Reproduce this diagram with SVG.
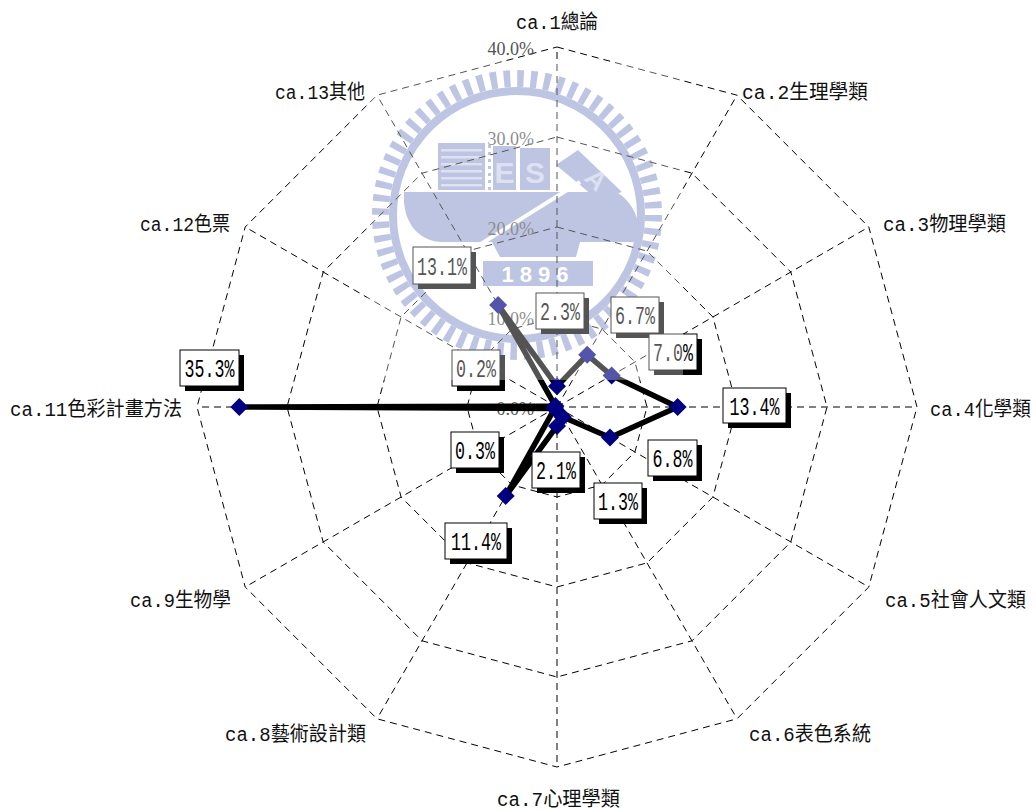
<svg xmlns="http://www.w3.org/2000/svg" width="1036" height="810" viewBox="0 0 1036 810">
<defs>
<style>
.grid{fill:none;stroke:#000;stroke-width:1;stroke-dasharray:7 5}
.tick{font-family:'Liberation Serif',serif;font-size:18px;fill:#555;text-anchor:end}
.cat{font-family:'Liberation Mono','Noto Sans CJK TC',monospace;font-size:20px;fill:#111}
.series{fill:none;stroke:#000;stroke-width:5.5;stroke-linejoin:round}
.mk{fill:#000080}
.sh{fill:#000}
.bx{fill:#fff;stroke:#000;stroke-width:1}
.lt{font-family:'Liberation Mono',monospace;font-size:26px;fill:#000}
.logo{fill:#9EA9D6}
.logoL{fill:#CCD2EC;font-family:'Liberation Sans',sans-serif;font-weight:bold}
</style>
<path id="dm" d="M0,-9 L9,0 L0,9 L-9,0 Z"/>
</defs>
<rect x="0" y="0" width="1036" height="810" fill="#fff"/>

<g id="watermark-logo">
<circle cx="517" cy="215" r="136.5" fill="none" stroke="#9EA9D6" stroke-width="17" stroke-dasharray="6.5 6.9"/>
<circle cx="517" cy="215" r="124" fill="none" stroke="#9EA9D6" stroke-width="8"/>
<path class="logo" d="M404,192 L616,192 C632,200 642,222 640,242 L580,242 L576,257 L500,257 L492,242 L440,242 C418,240 402,222 404,192 Z"/>
<rect class="logo" x="438" y="143" width="47" height="47"/>
<g fill="#CCD2EC">
<rect x="441" y="149" width="41" height="2.5"/>
<rect x="441" y="156" width="41" height="2.5"/>
<rect x="441" y="163" width="41" height="2.5"/>
<rect x="441" y="170" width="41" height="2.5"/>
<rect x="441" y="177" width="41" height="2.5"/>
<rect x="441" y="184" width="41" height="2.5"/>
</g>
<g class="logo">
<rect x="488" y="145" width="3" height="3"/><rect x="488" y="152" width="3" height="3"/><rect x="488" y="159" width="3" height="3"/><rect x="488" y="166" width="3" height="3"/><rect x="488" y="173" width="3" height="3"/><rect x="488" y="180" width="3" height="3"/><rect x="488" y="187" width="3" height="3"/>
</g>
<rect class="logo" x="493" y="146" width="23" height="44"/>
<rect class="logo" x="520" y="148" width="30" height="42"/>
<polygon class="logo" points="556,165 578,150 622,192 598,200"/>
<line x1="468" y1="252" x2="580" y2="182" stroke="#fff" stroke-width="4"/>
<rect class="logo" x="483" y="261" width="110" height="25"/>
<text class="logoL" x="504.5" y="183" font-size="30" text-anchor="middle">E</text>
<text class="logoL" x="535" y="183" font-size="30" text-anchor="middle">S</text>
<text class="logoL" x="0" y="0" font-size="26" text-anchor="middle" transform="translate(590,186) rotate(45)">A</text>
<text class="logoL" x="538" y="282" font-size="22" text-anchor="middle" letter-spacing="6" style="fill:#fff">1896</text>
</g>

<g id="grid">
<polygon class="grid" points="557,47 737,95.2 868.8,227 917,407 868.8,587 737,718.8 557,767 377,718.8 245.2,587 197,407 245.2,227 377,95.2"/>
<polygon class="grid" points="557,137 692,173.2 790.8,272 827,407 790.8,542 692,640.8 557,677 422,640.8 323.2,542 287,407 323.2,272 422,173.2"/>
<polygon class="grid" points="557,227 647,251.1 712.9,317 737,407 712.9,497 647,562.9 557,587 467,562.9 401.1,497 377,407 401.1,317 467,251.1"/>
<polygon class="grid" points="557,317 602,329.1 634.9,362 647,407 634.9,452 602,484.9 557,497 512,484.9 479.1,452 467,407 479.1,362 512,329.1"/>
<path class="grid" d="M557,407 L557,47 M557,407 L737,95.2 M557,407 L868.8,227 M557,407 L917,407 M557,407 L868.8,587 M557,407 L737,718.8 M557,407 L557,767 M557,407 L377,718.8 M557,407 L245.2,587 M557,407 L197,407 M557,407 L245.2,227 M557,407 L377,95.2"/>
</g>

<g id="axis-ticks">
<text class="tick" x="534" y="55">40.0%</text>
<text class="tick" x="534" y="145">30.0%</text>
<text class="tick" x="534" y="235">20.0%</text>
<text class="tick" x="534" y="325">10.0%</text>
<text class="tick" x="534" y="415">0.0%</text>
</g>

<g id="axis-labels">
<text id="cat1" class="cat" x="516" y="29" textLength="82" lengthAdjust="spacingAndGlyphs">ca.1總論</text>
<text id="cat2" class="cat" x="742" y="99" textLength="126" lengthAdjust="spacingAndGlyphs">ca.2生理學類</text>
<text id="cat3" class="cat" x="883" y="231" textLength="123" lengthAdjust="spacingAndGlyphs">ca.3物理學類</text>
<text id="cat4" class="cat" x="930" y="416" textLength="101" lengthAdjust="spacingAndGlyphs">ca.4化學類</text>
<text id="cat5" class="cat" x="885" y="607" textLength="141" lengthAdjust="spacingAndGlyphs">ca.5社會人文類</text>
<text id="cat6" class="cat" x="749" y="741" textLength="122" lengthAdjust="spacingAndGlyphs">ca.6表色系統</text>
<text id="cat7" class="cat" x="497" y="806" textLength="123" lengthAdjust="spacingAndGlyphs">ca.7心理學類</text>
<text id="cat8" class="cat" x="225" y="741" textLength="141" lengthAdjust="spacingAndGlyphs">ca.8藝術設計類</text>
<text id="cat9" class="cat" x="130" y="607" textLength="101" lengthAdjust="spacingAndGlyphs">ca.9生物學</text>
<text id="cat11" class="cat" x="10" y="416" textLength="172" lengthAdjust="spacingAndGlyphs">ca.11色彩計畫方法</text>
<text id="cat12" class="cat" x="140" y="231" textLength="90" lengthAdjust="spacingAndGlyphs">ca.12色票</text>
<text id="cat13" class="cat" x="275" y="99" textLength="90" lengthAdjust="spacingAndGlyphs">ca.13其他</text>
</g>

<g id="connectors">
<polygon class="series" points="557,386.3 587.2,354.8 611.6,375.5 677.6,407 610,437.6 562.9,417.1 557,425.9 505.7,495.9 554.7,408.4 239.3,407 555.4,406.1 498.1,304.9"/>
</g>

<g id="markers">
<use href="#dm" class="mk" x="557" y="386.3"/>
<use href="#dm" class="mk" x="587.2" y="354.8"/>
<use href="#dm" class="mk" x="611.6" y="375.5"/>
<use href="#dm" class="mk" x="677.6" y="407"/>
<use href="#dm" class="mk" x="610" y="437.6"/>
<use href="#dm" class="mk" x="562.9" y="417.1"/>
<use href="#dm" class="mk" x="557" y="425.9"/>
<use href="#dm" class="mk" x="505.7" y="495.9"/>
<use href="#dm" class="mk" x="554.7" y="408.4"/>
<use href="#dm" class="mk" x="239.3" y="407"/>
<use href="#dm" class="mk" x="555.4" y="406.1"/>
<use href="#dm" class="mk" x="498.1" y="304.9"/>
</g>

<g id="label-ca1"><rect class="sh" x="541" y="298" width="48" height="36"/><rect class="bx" x="536" y="293" width="48" height="36"/><text class="lt" x="540" y="320" textLength="40" lengthAdjust="spacingAndGlyphs">2.3%</text></g>
<g id="label-ca2"><rect class="sh" x="616" y="302" width="48" height="36"/><rect class="bx" x="611" y="297" width="48" height="36"/><text class="lt" x="615" y="324" textLength="40" lengthAdjust="spacingAndGlyphs">6.7%</text></g>
<g id="label-ca3"><rect class="sh" x="654" y="339" width="48" height="36"/><rect class="bx" x="649" y="334" width="48" height="36"/><text class="lt" x="653" y="361" textLength="40" lengthAdjust="spacingAndGlyphs">7.0%</text></g>
<g id="label-ca4"><rect class="sh" x="728" y="393" width="63" height="35"/><rect class="bx" x="723" y="388" width="63" height="35"/><text class="lt" x="729.5" y="415" textLength="50" lengthAdjust="spacingAndGlyphs">13.4%</text></g>
<g id="label-ca5"><rect class="sh" x="653" y="445" width="49" height="36"/><rect class="bx" x="648" y="440" width="49" height="36"/><text class="lt" x="652.5" y="467" textLength="40" lengthAdjust="spacingAndGlyphs">6.8%</text></g>
<g id="label-ca6"><rect class="sh" x="599" y="488" width="48" height="36"/><rect class="bx" x="594" y="483" width="48" height="36"/><text class="lt" x="598" y="510" textLength="40" lengthAdjust="spacingAndGlyphs">1.3%</text></g>
<g id="label-ca7"><rect class="sh" x="537" y="457" width="48" height="36"/><rect class="bx" x="532" y="452" width="48" height="36"/><text class="lt" x="536" y="479" textLength="40" lengthAdjust="spacingAndGlyphs">2.1%</text></g>
<g id="label-ca8"><rect class="sh" x="450" y="528" width="62" height="36"/><rect class="bx" x="445" y="523" width="62" height="36"/><text class="lt" x="451" y="550" textLength="50" lengthAdjust="spacingAndGlyphs">11.4%</text></g>
<g id="label-ca9"><rect class="sh" x="456" y="437" width="48" height="36"/><rect class="bx" x="451" y="432" width="48" height="36"/><text class="lt" x="455" y="459" textLength="40" lengthAdjust="spacingAndGlyphs">0.3%</text></g>
<g id="label-ca11"><rect class="sh" x="185" y="355" width="59" height="36"/><rect class="bx" x="180" y="350" width="59" height="36"/><text class="lt" x="184.5" y="377" textLength="50" lengthAdjust="spacingAndGlyphs">35.3%</text></g>
<g id="label-ca12"><rect class="sh" x="457" y="355" width="48" height="36"/><rect class="bx" x="452" y="350" width="48" height="36"/><text class="lt" x="456" y="377" textLength="40" lengthAdjust="spacingAndGlyphs">0.2%</text></g>
<g id="label-ca13"><rect class="sh" x="418" y="252" width="58" height="37"/><rect class="bx" x="413" y="247" width="58" height="37"/><text class="lt" x="417" y="275" textLength="50" lengthAdjust="spacingAndGlyphs">13.1%</text></g>

<rect id="watermark-veil" x="367" y="62" width="316" height="318" fill="#fff" fill-opacity="0.33"/>
</svg>
